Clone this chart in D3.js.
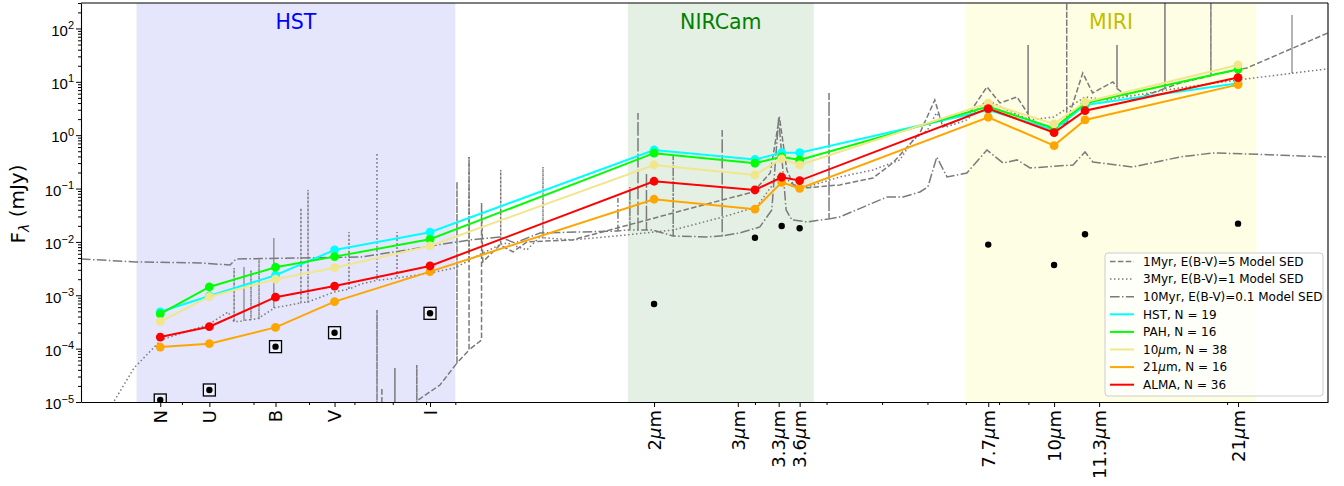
<!DOCTYPE html>
<html>
<head>
<meta charset="utf-8">
<script src="https://cdn.jsdelivr.net/npm/d3@7"></script>
<style>
  body { margin: 0; background: #fff; }
  svg { font-family: "DejaVu Sans", sans-serif; }
</style>
</head>
<body>
<div id="chart"></div>
<script>
// ---- data (wavelength in micron, flux in mJy) ----
const tickLabels = ["N", "U", "B", "V", "I", "2μm", "3μm", "3.3μm", "3.6μm", "7.7μm", "10μm", "11.3μm", "21μm"];
const tickWave = [0.275, 0.335, 0.437, 0.554, 0.813, 2.0, 2.80, 3.30, 3.59, 7.66, 9.98, 11.96, 20.9];
const pointWave = [0.275, 0.335, 0.437, 0.554, 0.813, 2.0, 3.0, 3.34, 3.59, 7.66, 9.98, 11.3, 20.9];

const hstSeries  = [4.9e-4, 9.7e-4, 2.37e-3, 7.06e-3, 1.52e-2, 0.528, 0.350, 0.471, 0.471, 2.97, 1.25, 3.69, 9.42];
const pahSeries  = [4.46e-4, 1.43e-3, 3.35e-3, 5.3e-3, 1.12e-2, 0.460, 0.298, 0.392, 0.344, 3.43, 1.35, 3.97, 17.2];
const um10Series = [3.2e-4, 9.4e-4, 2.0e-3, 3.29e-3, 8.4e-3, 0.277, 0.180, 0.36, 0.277, 3.97, 1.62, 4.2, 20.7];
const um21Series = [1.07e-4, 1.24e-4, 2.5e-4, 7.6e-4, 2.77e-3, 0.063, 0.041, 0.131, 0.101, 2.17, 0.637, 1.93, 8.87];
const almaSeries = [1.65e-4, 2.58e-4, 9.2e-4, 1.49e-3, 3.54e-3, 0.137, 0.094, 0.163, 0.141, 3.15, 1.12, 2.88, 12.0];
const limitPoints = [1.09e-5, 1.68e-5, 1.09e-4, 1.99e-4, 4.59e-4, 6.87e-4, 0.012, 0.0199, 0.018, 8.9e-3, 3.7e-3, 0.0139, 0.022];
const boxedCount = 5;

const seriesNames = ["HST, N = 19", "PAH, N = 16", "10μm, N = 38", "21μm, N = 16", "ALMA, N = 36"];
const seriesColors = ["#00ffff", "#00ff00", "#f0e68c", "#ffa500", "#ff0000"];

const modelNames = ["1Myr, E(B-V)=5 Model SED", "3Myr, E(B-V)=1 Model SED", "10Myr, E(B-V)=0.1 Model SED"];

// 1 Myr, E(B-V)=5 (dashed)
const sed1Myr = [
  [0.614, 5.3e-7], [0.657, 8.2e-7], [0.657, 5.3e-4], [0.657, 8.5e-7],
  [0.670, 9e-7], [0.670, 1.83e-5], [0.670, 9e-7],
  [0.706, 1.1e-6], [0.706, 4.34e-5], [0.706, 1.2e-6],
  [0.771, 1e-5], [0.771, 4.94e-5], [0.771, 1.05e-5],
  [0.846, 2.08e-5],
  [0.906, 5.38e-5], [0.906, 0.133], [0.906, 5.4e-5],
  [0.951, 9.44e-5], [0.951, 0.391], [0.951, 9.5e-5],
  [1.0, 1.45e-4], [1.0, 5.37e-2], [1.005, 4.21e-3],
  [1.077, 8.77e-3], [1.135, 6.49e-3], [1.2, 1.0e-2], [1.44, 1.09e-2], [1.89, 2.37e-2],
  [2.16, 3.49e-2], [2.63, 6.11e-2], [2.98, 8.63e-2], [3.19, 0.196], [3.31, 2.2], [3.41, 0.223],
  [3.50, 0.117], [3.70, 0.103], [4.22, 0.117], [4.82, 0.158], [5.22, 0.302], [5.82, 1.10],
  [6.18, 4.58], [6.38, 1.43], [7.03, 2.20], [7.62, 8.02], [8.03, 4.02], [8.6, 5.21],
  [8.99, 2.5], [8.99, 49.2], [8.99, 2.3],
  [9.05, 1.93], [9.81, 1.37],
  [10.5, 1.70], [10.5, 500], [10.5, 1.70],
  [11.2, 14.7], [11.65, 6.19], [12.64, 9.95],
  [12.85, 8.0], [12.85, 49.2], [12.85, 7.5],
  [13.7, 4.58],
  [15.58, 7.5], [15.58, 500], [15.58, 7.5],
  [16.55, 9.53],
  [18.74, 13.0], [18.74, 500], [18.74, 13.0],
  [18.9, 13.5], [21.66, 18.2], [30, 82.6]
];

// 3 Myr, E(B-V)=1 (dotted)
const sed3Myr = [
  [0.216, 3.7e-6], [0.228, 1e-5], [0.2475, 4.34e-5], [0.276, 1.45e-4], [0.311, 2.24e-4],
  [0.333, 2.77e-4], [0.361, 4.86e-4], [0.370, 3.16e-4], [0.370, 3.25e-3], [0.370, 3.2e-4],
  [0.385, 3.3e-4], [0.385, 3.39e-3], [0.385, 3.4e-4],
  [0.396, 3.5e-4], [0.396, 2.97e-3], [0.396, 3.5e-4],
  [0.409, 3.7e-4], [0.409, 5.0e-3], [0.409, 3.75e-4],
  [0.434, 5.7e-4], [0.434, 1.19e-2], [0.434, 5.8e-4],
  [0.484, 7.2e-4], [0.484, 4.33e-2], [0.484, 7.3e-4],
  [0.498, 7.48e-4], [0.498, 9.42e-2], [0.498, 7.5e-4],
  [0.553, 1.15e-3],
  [0.587, 1.3e-3], [0.587, 1.54e-2], [0.587, 1.3e-3],
  [0.616, 1.63e-3],
  [0.657, 1.9e-3], [0.657, 0.465], [0.657, 1.9e-3],
  [0.712, 2.1e-3], [0.712, 1.54e-2], [0.712, 2.1e-3],
  [0.813, 2.62e-3], [0.899, 3.25e-3],
  [0.951, 4.5e-3], [0.951, 0.391], [0.951, 4.6e-3],
  [1.006, 6.21e-3],
  [1.08, 9e-3], [1.08, 0.223], [1.08, 9e-3],
  [1.107, 9.55e-3], [1.20, 7.06e-3], [1.264, 1.24e-2],
  [1.28, 1.2e-2], [1.28, 0.254], [1.28, 1.2e-2],
  [1.444, 1.09e-2], [1.79, 1.35e-2], [2.16, 1.67e-2], [2.64, 2.94e-2], [3.02, 4.52e-2],
  [3.2, 0.107], [3.32, 0.196], [3.50, 0.117], [3.70, 0.107], [4.22, 0.165], [4.82, 0.223],
  [5.37, 0.344], [5.66, 0.815], [6.0, 1.25], [6.22, 2.61], [6.47, 1.43], [7.03, 1.93],
  [7.62, 4.58], [8.26, 2.97], [9.06, 1.93], [9.97, 2.20], [11.3, 5.21], [12.34, 4.58],
  [16.55, 7.69], [21.0, 10.9],
  [25.96, 14.5], [25.96, 179], [25.96, 14.5],
  [30, 17.5]
];

// 10 Myr, E(B-V)=0.1 (dash-dot)
const sed10Myr = [
  [0.2, 4.79e-3], [0.249, 4.21e-3], [0.323, 4.03e-3], [0.364, 3.70e-3], [0.373, 4.79e-3],
  [0.482, 5.0e-3], [0.616, 5.22e-3], [0.741, 7.06e-3], [0.836, 8.77e-3], [0.955, 1.09e-2],
  [1.077, 1.24e-2], [1.143, 9.55e-3], [1.264, 1.47e-2],
  [1.73, 1.6e-2], [1.73, 6.67e-2], [1.73, 1.6e-2],
  [1.791, 1.67e-2],
  [1.815, 1.67e-2], [1.815, 0.107], [1.815, 1.67e-2],
  [1.875, 1.67e-2], [1.875, 2.61], [1.875, 1.67e-2],
  [1.94, 1.67e-2], [1.94, 0.196], [1.94, 1.67e-2],
  [1.99, 1.67e-2],
  [2.16, 1.29e-2], [2.16, 0.427], [2.16, 1.29e-2],
  [2.47, 1.24e-2],
  [2.63, 1.3e-2], [2.63, 1.25], [2.63, 1.3e-2],
  [2.82, 1.47e-2], [3.06, 1.91e-2], [3.21, 3.97e-2], [3.30, 2.11], [3.40, 3.97e-2],
  [3.48, 2.58e-2], [3.70, 2.37e-2],
  [4.04, 2.7e-2], [4.04, 6.19], [4.04, 2.7e-2],
  [4.22, 2.94e-2], [5.10, 6.96e-2], [5.44, 6.96e-2], [5.82, 8.63e-2], [6.01, 0.107],
  [6.23, 0.391], [6.49, 0.165], [7.03, 0.196], [7.62, 0.528], [8.13, 0.302], [8.60, 0.344],
  [9.06, 0.243], [10.77, 0.277], [11.30, 0.485], [11.66, 0.315], [13.69, 0.254],
  [16.55, 0.391], [18.89, 0.465], [21.66, 0.445], [30, 0.391]
];

// instrument coverage bands
const bandLabels = ["HST", "NIRCam", "MIRI"];
const bandRanges = [[0.25, 0.9], [1.8, 3.8], [7.0, 22.5]];
const bandFills = ["#e5e5fc", "#e5f0e4", "#fefee4"];
const bandTextColors = ["#0000ff", "#008000", "#bfbf00"];

/**
 * Draws the SED comparison plot.
 */
function drawSED() {
    const W = 1344, H = 486;
    const left = 81, right = 1328, top = 3, bottom = 402;

    const svg = d3.select("#chart")
        .append("svg")
        .attr("width", W)
        .attr("height", H);

    const x = d3.scaleLog().domain([0.2, 30]).range([left, right]);
    const y = d3.scaleLog().domain([1e-5, 300]).range([bottom, top]);

    svg.append("defs").append("clipPath").attr("id", "plot-clip")
        .append("rect")
        .attr("x", left).attr("y", top)
        .attr("width", right - left).attr("height", bottom - top);

    // Shaded instrument bands
    svg.append("g").selectAll("rect")
        .data(bandRanges)
        .enter()
        .append("rect")
        .attr("x", d => x(d[0]))
        .attr("y", top)
        .attr("width", d => x(d[1]) - x(d[0]))
        .attr("height", bottom - top)
        .style("fill", (d, i) => bandFills[i]);

    // Model SEDs
    const line = d3.line().x(d => x(d[0])).y(d => y(d[1]));
    const models = [sed1Myr, sed3Myr, sed10Myr];
    const dashes = ["5.5,2.4", "1.5,2.5", "9.6,2.4,1.5,2.4"];
    const modelG = svg.append("g").attr("clip-path", "url(#plot-clip)");
    models.forEach((m, i) => {
        modelG.append("path")
            .attr("d", line(m))
            .style("fill", "none")
            .style("stroke", "#7a7a7a")
            .style("stroke-width", 1.5)
            .style("stroke-dasharray", dashes[i]);
    });

    // Mean SED lines and markers
    const allSeries = [hstSeries, pahSeries, um10Series, um21Series, almaSeries];
    const seriesG = svg.append("g").attr("clip-path", "url(#plot-clip)");
    allSeries.forEach((s, i) => {
        const pts = s.map((v, j) => [pointWave[j], v]);
        seriesG.append("path")
            .attr("d", line(pts))
            .style("fill", "none")
            .style("stroke", seriesColors[i])
            .style("stroke-width", 2);
        seriesG.selectAll(null)
            .data(pts)
            .enter()
            .append("circle")
            .attr("cx", d => x(d[0]))
            .attr("cy", d => y(d[1]))
            .attr("r", 4.4)
            .style("fill", seriesColors[i]);
    });

    // Black points (HST ones boxed)
    const limits = limitPoints.map((v, j) => [pointWave[j], v]);
    seriesG.selectAll(null)
        .data(limits.slice(0, boxedCount))
        .enter()
        .append("rect")
        .attr("x", d => x(d[0]) - 6)
        .attr("y", d => y(d[1]) - 6)
        .attr("width", 12)
        .attr("height", 12)
        .style("fill", "rgba(255,255,255,0.45)")
        .style("stroke", "#000")
        .style("stroke-width", 1.3);
    seriesG.selectAll(null)
        .data(limits)
        .enter()
        .append("circle")
        .attr("cx", d => x(d[0]))
        .attr("cy", d => y(d[1]))
        .attr("r", 3.2)
        .style("fill", "#000");

    // Band labels
    svg.append("g").selectAll("text")
        .data(bandRanges)
        .enter()
        .append("text")
        .attr("x", d => x(Math.sqrt(d[0] * d[1])))
        .attr("y", 29)
        .attr("text-anchor", "middle")
        .style("font-size", "20.5px")
        .style("fill", (d, i) => bandTextColors[i])
        .text((d, i) => bandLabels[i]);

    // x-axis: minor ticks then labelled ticks
    const minorX = [];
    [0.1, 1, 10].forEach(dec => {
        for (let k = 2; k <= 9; k++) {
            const v = k * dec;
            if (v > 0.2 && v < 30) minorX.push(v);
        }
    });
    svg.append("g")
        .attr("transform", `translate(0,${bottom})`)
        .call(d3.axisBottom(x).tickValues(minorX).tickSize(3).tickFormat(""))
        .call(g => g.select(".domain").remove());

    const xAxisG = svg.append("g")
        .attr("transform", `translate(0,${bottom})`)
        .call(d3.axisBottom(x).tickValues(tickWave).tickSize(5).tickSizeOuter(0)
            .tickFormat((d, i) => tickLabels[i]));
    xAxisG.select(".domain").style("stroke-width", 1.1);
    xAxisG.selectAll("text")
        .attr("transform", "rotate(-90)")
        .attr("x", -8)
        .attr("y", 0)
        .attr("dy", "0.35em")
        .style("text-anchor", "end")
        .style("font-size", "18px")
        .style("font-family", "DejaVu Sans")
        .style("fill", "#000")
        .each(function(d) {
            const lab = tickLabels[tickWave.indexOf(d)];
            if (lab.endsWith("μm")) {
                const el = d3.select(this).text(null);
                el.append("tspan").text(lab.slice(0, -2));
                el.append("tspan").style("font-style", "italic").text("μ");
                el.append("tspan").text("m");
            }
        });

    // y-axis
    const decades = [1e-5, 1e-4, 1e-3, 1e-2, 1e-1, 1, 10, 100];
    const minorY = [];
    decades.forEach(dec => {
        for (let k = 2; k <= 9; k++) {
            if (k * dec <= 300) minorY.push(k * dec);
        }
    });
    svg.append("g")
        .attr("transform", `translate(${left},0)`)
        .call(d3.axisLeft(y).tickValues(minorY).tickSize(3).tickFormat(""))
        .call(g => g.select(".domain").remove());

    const yAxisG = svg.append("g")
        .attr("transform", `translate(${left},0)`)
        .call(d3.axisLeft(y).tickValues(decades).tickSize(5).tickSizeOuter(0).tickFormat(""));
    yAxisG.select(".domain").style("stroke-width", 1.1);
    yAxisG.selectAll(".tick").each(function(d) {
        const exp = Math.round(Math.log10(d));
        const t = d3.select(this).append("text")
            .attr("x", -7)
            .attr("dy", "0.45em")
            .style("text-anchor", "end")
            .style("font-size", "15px")
            .style("fill", "#000");
        t.append("tspan").text("10");
        t.append("tspan")
            .attr("dy", "-0.6em")
            .style("font-size", "11px")
            .text(String(exp).replace("-", "\u2212"));
    });

    // top and right spines
    svg.append("line")
        .attr("x1", left).attr("x2", right).attr("y1", top).attr("y2", top)
        .style("stroke", "#000").style("stroke-width", 1.1);
    svg.append("line")
        .attr("x1", right).attr("x2", right).attr("y1", top).attr("y2", bottom)
        .style("stroke", "#000").style("stroke-width", 1.1);

    // y label
    const yl = svg.append("text")
        .attr("transform", "translate(25,204) rotate(-90)")
        .attr("text-anchor", "middle")
        .style("font-size", "20px");
    yl.append("tspan").text("F");
    yl.append("tspan").attr("dy", "0.3em").style("font-size", "14px").style("font-style", "italic").text("λ");
    yl.append("tspan").attr("dy", "-0.25em").text(" (mJy)");

    // Legend
    const lg = svg.append("g").attr("transform", "translate(1105,253)");
    lg.append("rect")
        .attr("width", 218)
        .attr("height", 143)
        .attr("rx", 3)
        .style("fill", "rgba(255,255,255,0.8)")
        .style("stroke", "#cccccc")
        .style("stroke-width", 1);

    const legendItems = modelNames.map((n, i) => ({ name: n, color: "#7a7a7a", dash: dashes[i], w: 1.5 }))
        .concat(seriesNames.map((n, i) => ({ name: n, color: seriesColors[i], dash: null, w: 2 })));
    legendItems.forEach((it, i) => {
        const yy = 8.5 + i * 17.6;
        lg.append("line")
            .attr("x1", 5).attr("x2", 29).attr("y1", yy).attr("y2", yy)
            .style("stroke", it.color)
            .style("stroke-width", it.w)
            .style("stroke-dasharray", it.dash);
        const t = lg.append("text")
            .attr("x", 38)
            .attr("y", yy)
            .attr("dy", "0.35em")
            .style("font-size", "12px")
            .style("fill", "#000");
        if (it.name.includes("μm")) {
            const parts = it.name.split("μ");
            t.append("tspan").text(parts[0]);
            t.append("tspan").style("font-style", "italic").text("μ");
            t.append("tspan").text(parts[1]);
        } else {
            t.text(it.name);
        }
    });
}

drawSED();
</script>
</body>
</html>
